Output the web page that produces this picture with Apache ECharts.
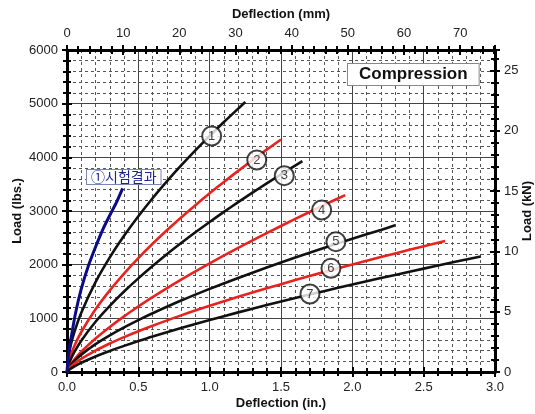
<!DOCTYPE html>
<html>
<head>
<meta charset="utf-8">
<script src="https://cdn.jsdelivr.net/npm/echarts@6/dist/echarts.min.js"></script>
<style>
html,body{margin:0;padding:0;background:#fff;}
#chart{width:535px;height:414px;}
</style>
</head>
<body>
<div id="chart"></div>
<script>
// ---- data (deflection in inches, load in lbs) ----
const curveTest = [[0,0],[0.01,300],[0.03,650],[0.06,1100],[0.1,1550],[0.15,1980],[0.2,2330],[0.25,2650],[0.3,2920],[0.35,3180],[0.39,3420]];
const curve1 = [[0,0],[0.02,421],[0.05,729],[0.1,1105],[0.2,1675],[0.3,2136],[0.4,2538],[0.5,2902],[0.6,3238],[0.7,3551],[0.8,3848],[0.9,4129],[1.0,4399],[1.1,4658],[1.2,4908],[1.25,5030]];
const curve2 = [[0,0],[0.02,262],[0.05,475],[0.1,745],[0.2,1169],[0.3,1522],[0.4,1835],[0.5,2122],[0.6,2389],[0.7,2640],[0.8,2880],[0.9,3109],[1.0,3329],[1.1,3542],[1.2,3748],[1.3,3948],[1.4,4143],[1.5,4333]];
const curve3 = [[0,0],[0.02,196],[0.05,365],[0.1,584],[0.2,936],[0.3,1233],[0.4,1500],[0.5,1745],[0.6,1975],[0.7,2194],[0.8,2402],[0.9,2603],[1.0,2796],[1.1,2983],[1.2,3165],[1.3,3342],[1.4,3515],[1.5,3683],[1.65,3930]];
const curve4 = [[0,0],[0.02,116],[0.05,227],[0.1,377],[0.2,625],[0.3,840],[0.4,1037],[0.5,1220],[0.6,1394],[0.8,1720],[1.0,2024],[1.2,2312],[1.4,2587],[1.6,2852],[1.8,3109],[1.95,3296]];
const curve5 = [[0,0],[0.02,108],[0.05,202],[0.1,324],[0.2,519],[0.3,683],[0.4,831],[0.5,967],[0.6,1094],[0.8,1331],[1.0,1549],[1.2,1753],[1.4,1947],[1.6,2132],[1.8,2310],[2.0,2482],[2.2,2648],[2.3,2733]];
const curve6 = [[0,0],[0.02,80],[0.05,151],[0.1,246],[0.2,400],[0.3,531],[0.4,649],[0.5,759],[0.6,862],[0.8,1055],[1.0,1233],[1.2,1401],[1.4,1560],[1.6,1713],[1.8,1861],[2.0,2003],[2.2,2141],[2.4,2276],[2.65,2439]];
const curve7 = [[0,0],[0.02,52],[0.05,102],[0.1,172],[0.2,290],[0.3,393],[0.4,487],[0.5,576],[0.6,661],[0.8,820],[1.0,969],[1.2,1111],[1.4,1247],[1.6,1378],[1.8,1506],[2.0,1630],[2.2,1750],[2.4,1868],[2.6,1984],[2.9,2153]];
const curveColors = ['#111111','#e8231f','#111111','#e8231f','#111111','#e8231f','#111111'];
const labelPoints = [[1.014,4397,'1'],[1.33,3950,'2'],[1.523,3658,'3'],[1.785,3018,'4'],[1.885,2428,'5'],[1.85,1932,'6'],[1.703,1453,'7']];
const testLabel = '①시험결과';
const boxLabel = 'Compression';
const inMax = 3, lbsMax = 6000;
const mmMax = 76.2, kNMax = 26.689;

const FONT = 'Liberation Sans, Arial, sans-serif';
const tickStyle = {color:'#000', width:2};

const chart = echarts.init(document.getElementById('chart'), null, {renderer:'canvas'});
const curves = [curve1,curve2,curve3,curve4,curve5,curve6,curve7];
const series = curves.map((c,i)=>({
  type:'line', data:c, smooth:0.3, showSymbol:false, xAxisIndex:0, yAxisIndex:0,
  lineStyle:{color:curveColors[i], width:2.6}, z:5, silent:true
}));
series.push({type:'line', data:curveTest, smooth:0.3, showSymbol:false, xAxisIndex:0, yAxisIndex:0,
  lineStyle:{color:'#0b0b85', width:3}, z:6, silent:true});
series.push({type:'scatter', data:labelPoints, xAxisIndex:0, yAxisIndex:0, symbol:'circle', symbolSize:19,
  itemStyle:{color:'#fff', borderColor:'#111', borderWidth:2}, z:10, silent:true,
  label:{show:true, position:'inside', formatter:p=>p.value[2], color:'#111', fontSize:13, fontFamily:FONT}});

const commonTickLbl = {color:'#222', fontSize:13, fontFamily:FONT};
const nameStyle = {fontWeight:'bold', fontSize:13, color:'#111', fontFamily:FONT};
const minorGrid = {show:true, lineStyle:{color:'#555', width:1, type:[3,3]}};

const option = {
  backgroundColor:'#fff',
  animation:false,
  grid:{left:67, right:40, top:50, bottom:42, containLabel:false, outerBoundsMode:'none'},
  xAxis:[
    {type:'value', position:'bottom', min:0, max:inMax, interval:0.5,
     axisLine:{show:true, onZero:false, lineStyle:{color:'#000', width:3}},
     axisTick:{show:true, length:5, lineStyle:tickStyle},
     minorTick:{show:true, splitNumber:5, length:4, lineStyle:tickStyle},
     splitLine:{show:true, lineStyle:{color:'#444', width:1}},
     minorSplitLine:minorGrid,
     axisLabel:Object.assign({formatter:v=>v.toFixed(1), margin:9}, commonTickLbl),
     name:'Deflection (in.)', nameLocation:'middle', nameGap:25, nameMoveOverlap:false, nameTextStyle:nameStyle},
    {type:'value', position:'bottom', min:0, max:inMax, interval:0.5,
     axisLine:{show:false, onZero:false}, axisTick:{show:true, inside:true, length:5, lineStyle:tickStyle},
     minorTick:{show:true, splitNumber:5, length:4, lineStyle:tickStyle},
     splitLine:{show:false}, axisLabel:{show:false}},
    {type:'value', position:'top', min:0, max:mmMax, interval:10,
     axisLine:{show:true, onZero:false, lineStyle:{color:'#000', width:3}},
     axisTick:{show:true, length:5, lineStyle:tickStyle},
     minorTick:{show:true, splitNumber:5, length:4, lineStyle:tickStyle},
     splitLine:{show:false},
     axisLabel:Object.assign({showMaxLabel:false, margin:10}, commonTickLbl),
     name:'Deflection (mm)', nameLocation:'middle', nameGap:29, nameMoveOverlap:false, nameTextStyle:nameStyle},
    {type:'value', position:'top', min:0, max:mmMax, interval:10,
     axisLine:{show:false, onZero:false}, axisTick:{show:true, inside:true, length:5, lineStyle:tickStyle},
     minorTick:{show:true, splitNumber:5, length:4, lineStyle:tickStyle},
     splitLine:{show:false}, axisLabel:{show:false}}
  ],
  yAxis:[
    {type:'value', position:'left', min:0, max:lbsMax, interval:1000,
     axisLine:{show:true, onZero:false, lineStyle:{color:'#000', width:3}},
     axisTick:{show:true, length:5, lineStyle:tickStyle},
     minorTick:{show:true, splitNumber:5, length:4, lineStyle:tickStyle},
     splitLine:{show:true, lineStyle:{color:'#444', width:1}},
     minorSplitLine:minorGrid,
     axisLabel:Object.assign({margin:9, formatter:v=>String(v)}, commonTickLbl),
     name:'Load (lbs.)', nameLocation:'middle', nameRotate:90, nameGap:43, nameMoveOverlap:false, nameTextStyle:nameStyle},
    {type:'value', position:'left', min:0, max:lbsMax, interval:1000,
     axisLine:{show:false, onZero:false}, axisTick:{show:true, inside:true, length:5, lineStyle:tickStyle},
     minorTick:{show:true, splitNumber:5, length:4, lineStyle:tickStyle},
     splitLine:{show:false}, axisLabel:{show:false}},
    {type:'value', position:'right', min:0, max:kNMax, interval:5,
     axisLine:{show:true, onZero:false, lineStyle:{color:'#000', width:3}},
     axisTick:{show:true, length:5, lineStyle:tickStyle},
     minorTick:{show:true, splitNumber:5, length:4, lineStyle:tickStyle},
     splitLine:{show:false},
     axisLabel:Object.assign({showMaxLabel:false, margin:9}, commonTickLbl),
     name:'Load (kN)', nameLocation:'middle', nameRotate:90, nameGap:26, nameMoveOverlap:false, nameTextStyle:nameStyle},
    {type:'value', position:'right', min:0, max:kNMax, interval:5,
     axisLine:{show:false, onZero:false}, axisTick:{show:true, inside:true, length:5, lineStyle:tickStyle},
     minorTick:{show:true, splitNumber:5, length:4, lineStyle:tickStyle},
     splitLine:{show:false}, axisLabel:{show:false}}
  ],
  graphic:[
    {type:'text', left:347, top:63, z:20,
     style:{text:boxLabel, font:'bold 17px '+FONT, fill:'#111', backgroundColor:'#fff',
            borderColor:'#888', borderWidth:1, padding:[2,11,2,11]}},
    {type:'text', left:86, top:169, z:20,
     style:{text:testLabel, font:'14px "Noto Sans CJK KR", sans-serif', fill:'#1c2490', backgroundColor:'#fff',
            borderColor:'#7a86b8', borderWidth:1, padding:[0,4,0,4]}}
  ],
  series:series
};
chart.setOption(option);
</script>
</body>
</html>
